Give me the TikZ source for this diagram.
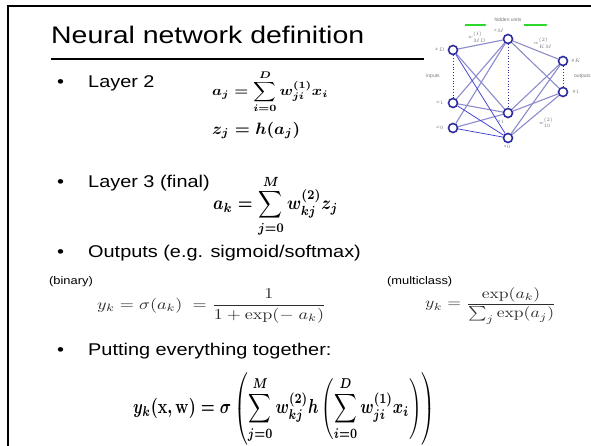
\documentclass[tikz,border=0pt]{standalone}
\usepackage[no-math]{fontspec}
\setmainfont{Liberation Sans}
\usepackage{graphicx}
\usetikzlibrary{arrows.meta}
\newcommand{\hs}[1]{\scalebox{1.17}[1]{#1}}
\definecolor{nodeblue}{RGB}{45,45,160}
\definecolor{edgelight}{RGB}{140,140,205}
\definecolor{edgedark}{RGB}{55,55,215}
\definecolor{arrgreen}{RGB}{45,215,45}
\definecolor{lblgrey}{RGB}{120,120,120}
\definecolor{eqgrey}{RGB}{45,45,45}
\begin{document}
\begin{tikzpicture}[x=1pt,y=-1pt,
  txt/.style={anchor=base west,inner sep=0,font=\fontsize{17}{20}\selectfont},
  small/.style={anchor=base west,inner sep=0,font=\fontsize{11}{13}\selectfont},
  eq/.style={anchor=north west,inner sep=0},
  unit/.style={circle,draw=nodeblue,line width=1.6pt,fill=white,minimum size=9pt,inner sep=0},
  lbl/.style={text=lblgrey,font=\fontsize{5}{6}\selectfont,inner sep=0},
  light/.style={draw=edgelight,line width=1.1pt},
  darke/.style={draw=edgedark,line width=0.7pt},
  dots/.style={draw=nodeblue,dotted,line width=0.8pt},
  garrow/.style={draw=arrgreen,line width=1.3pt,-{Latex[length=3pt,width=3pt]}},
  rule/.style={line width=2.5pt}]
\useasboundingbox (0,0) rectangle (591,445);
\fill[white] (0,0) rectangle (591,445);
% slide border
\coordinate (bl) at (8,446);
\coordinate (tl) at (8,6);
\coordinate (tr) at (592,6);
\draw[rule] (bl) -- (tl) -- (tr);
% title
\node[anchor=base west,inner sep=0,font=\fontsize{24}{28}\selectfont] (title) at (51,43) {\scalebox{1.185}[1]{Neural network definition}};
\coordinate (ul1) at (51,59);
\coordinate (ul2) at (424,59);
\draw[rule] (ul1) -- (ul2);
% bullets
\node[txt] (b1) at (57,87) {\hs{•}};
\node[txt] (t1) at (88,87) {\hs{Layer 2}};
\node[txt] (b2) at (57,187) {\hs{•}};
\node[txt] (t2) at (88,187) {\hs{Layer 3 (final)}};
\node[txt] (b3) at (57,257) {\hs{•}};
\node[txt] (t3) at (88,257) {\hs{Outputs (e.g. sigmoid/softmax)}};
\node[txt] (b4) at (57,355) {\hs{•}};
\node[txt] (t4) at (88,355) {\hs{Putting everything together:}};
\node[small] (bin) at (49,284) {\hs{(binary)}};
\node[small] (mc) at (387,284) {\hs{(multiclass)}};
% equations
\node[eq] (eqaj) at (212,70) {\resizebox*{116pt}{43pt}{\boldmath$\displaystyle a_j=\sum_{i=0}^{D} w_{ji}^{(1)}x_i$}};
\node[eq] (eqzj) at (212,122) {\resizebox*{88pt}{17pt}{\boldmath$z_j=h(a_j)$}};
\node[eq] (eqak) at (213,175) {\resizebox*{125pt}{62pt}{\boldmath$\displaystyle a_k=\sum_{j=0}^{M} w_{kj}^{(2)}z_j$}};
\node[eq,text=eqgrey] (eqsig) at (97,289) {\resizebox*{229pt}{34pt}{$\displaystyle y_k=\sigma(a_k)\;=\frac{1}{1+\exp(-\;a_k)}$}};
\node[eq,text=eqgrey] (eqsm) at (425,287) {\resizebox*{131pt}{37pt}{$\displaystyle y_k=\frac{\exp(a_k)}{\sum_j\exp(a_j)}$}};
\node[eq] (eqall) at (133,372) {\resizebox*{302pt}{73pt}{\boldmath$\displaystyle y_k(\mathbf{x},\mathbf{w})=\sigma\left(\sum_{j=0}^{M}w_{kj}^{(2)}h\left(\sum_{i=0}^{D}w_{ji}^{(1)}x_i\right)\right)$}};
% network
\node[unit] (xD) at (453,50) {};
\node[unit] (x1) at (453,103) {};
\node[unit] (x0) at (453,128) {};
\node[unit] (zM) at (508,39) {};
\node[unit] (z1) at (508,113) {};
\node[unit] (z0) at (508,138) {};
\node[unit] (yK) at (563,61) {};
\node[unit] (y1) at (563,92) {};
\foreach \a in {xD,x1,x0}{\foreach \b in {zM,z1}{\draw[light] (\a) -- (\b);}}
\foreach \a in {zM,z1,z0}{\foreach \b in {yK,y1}{\draw[light] (\a) -- (\b);}}
\foreach \a in {xD,x1,x0}{\draw[darke] (\a) -- (z0);}
\draw[dots] (xD) -- (x1);
\draw[dots] (zM) -- (z1);
\draw[dots] (yK) -- (y1);
\coordinate (ga1) at (465,25);
\coordinate (ga2) at (487,25);
\coordinate (ga3) at (524,25);
\coordinate (ga4) at (548,25);
\draw[garrow] (ga1) -- (ga2);
\draw[garrow] (ga3) -- (ga4);
\node[lbl] (hu) at (508,20) {hidden units};
\node[lbl] (inl) at (433,76) {inputs};
\node[lbl,anchor=west] (outl) at (574,76) {outputs};
\node[lbl] (lxD) at (440,50) {$x_D$};
\node[lbl] (lx1) at (440,103) {$x_1$};
\node[lbl] (lx0) at (440,128) {$x_0$};
\node[lbl] (lzM) at (499,31) {$z_M$};
\node[lbl] (lz1) at (501,122) {$z_1$};
\node[lbl] (lz0) at (507,147) {$z_0$};
\node[lbl] (lyK) at (576,61) {$y_K$};
\node[lbl] (ly1) at (576,92) {$y_1$};
\node[lbl] (w1) at (477,37) {$w^{(1)}_{MD}$};
\node[lbl] (w2) at (543,43) {$w^{(2)}_{KM}$};
\node[lbl] (w3) at (546,123) {$w^{(2)}_{10}$};
\end{tikzpicture}
\end{document}
